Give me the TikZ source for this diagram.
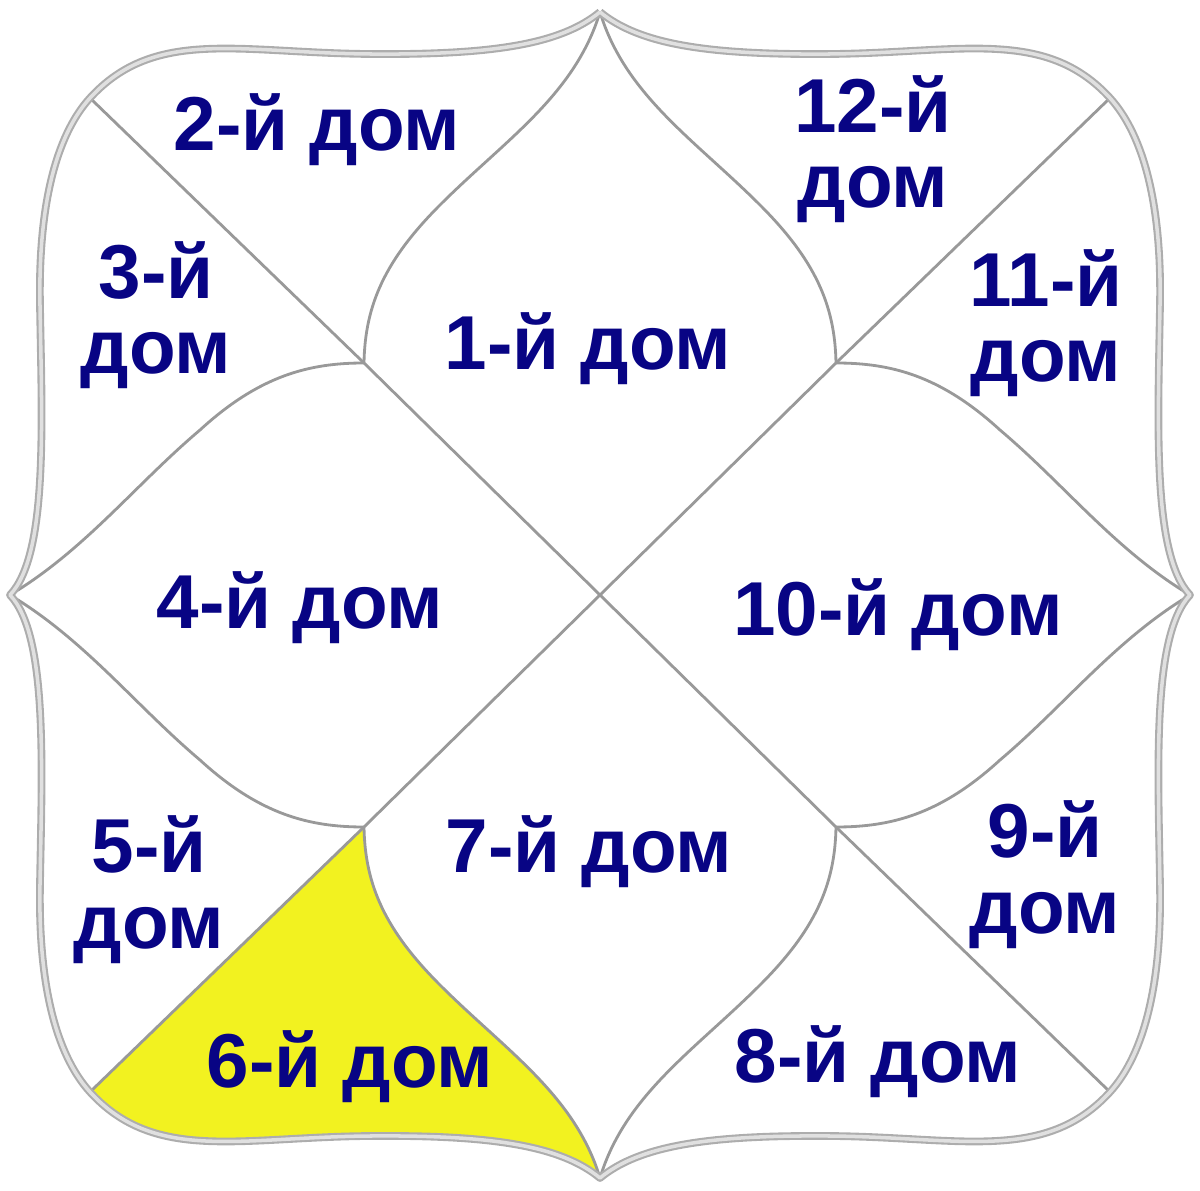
\documentclass[tikz,border=0pt]{standalone}
\usepackage{fontspec}
\setmainfont{Liberation Sans}
\definecolor{houseblue}{RGB}{8,4,132}
\definecolor{sixthyellow}{RGB}{242,242,32}
\begin{document}
\begin{tikzpicture}[x = .02cm, y = .02cm,
	line/.style = {draw = black!40, line width = 1.6pt},
	rim/.style = {draw = black!32, line width = 1.2pt, double = black!12, double distance = 2pt, line join = round},
	house/.style = {text = houseblue, font = \bfseries\fontsize{43.5}{43.1}\selectfont, align = center, anchor = base, inner sep = 0pt}]
	\useasboundingbox (-600,-595) rectangle (600,595);
	\coordinate (ctr) at (0,0);
	\coordinate (tipN) at (0,583);
	\coordinate (tipS) at (0,-583);
	\coordinate (tipW) at (-590,0);
	\coordinate (tipE) at (590,0);
	\coordinate (inNW) at (-236,232);
	\coordinate (inNE) at (236,232);
	\coordinate (inSE) at (236,-232);
	\coordinate (inSW) at (-236,-232);
	\coordinate (cNW) at (-510,497);
	\coordinate (cNE) at (510,497);
	\coordinate (cSE) at (510,-497);
	\coordinate (cSW) at (-510,-497);
	\fill[sixthyellow] (inSW) -- (cSW) .. controls (-445,-568) and (-360,-542) .. (-230,-541) .. controls (-110,-540) and (-40,-550) .. (tipS) .. controls (-25,-500) and (-95,-455) .. (-160,-390) .. controls (-215,-335) and (-235,-290) .. (inSW);
	\draw[line] (cNW) -- (inNW) -- (ctr) -- (inSE) -- (cSE);
	\draw[line] (cNE) -- (inNE) -- (ctr) -- (inSW) -- (cSW);
	\draw[line] (tipN) .. controls (25,500) and (95,455) .. (160,390) .. controls (215,335) and (235,290) .. (inNE);
	\draw[line] (tipN) .. controls (-25,500) and (-95,455) .. (-160,390) .. controls (-215,335) and (-235,290) .. (inNW);
	\draw[line] (tipS) .. controls (25,-500) and (95,-455) .. (160,-390) .. controls (215,-335) and (235,-290) .. (inSE);
	\draw[line] (tipS) .. controls (-25,-500) and (-95,-455) .. (-160,-390) .. controls (-215,-335) and (-235,-290) .. (inSW);
	\draw[line] (tipE) .. controls (515,45) and (465,110) .. (400,165) .. controls (340,220) and (290,232) .. (inNE);
	\draw[line] (tipE) .. controls (515,-45) and (465,-110) .. (400,-165) .. controls (340,-220) and (290,-232) .. (inSE);
	\draw[line] (tipW) .. controls (-515,45) and (-465,110) .. (-400,165) .. controls (-340,220) and (-290,232) .. (inNW);
	\draw[line] (tipW) .. controls (-515,-45) and (-465,-110) .. (-400,-165) .. controls (-340,-220) and (-290,-232) .. (inSW);
	\draw[rim] (tipN) .. controls (40,550) and (110,540) .. (230,541) .. controls (360,542) and (445,568) .. (cNE)
		.. controls (540,464) and (562,400) .. (560,290) .. controls (558,170) and (552,40) .. (tipE)
		.. controls (552,-40) and (558,-170) .. (560,-290) .. controls (562,-400) and (540,-464) .. (cSE)
		.. controls (445,-568) and (360,-542) .. (230,-541) .. controls (110,-540) and (40,-550) .. (tipS)
		.. controls (-40,-550) and (-110,-540) .. (-230,-541) .. controls (-360,-542) and (-445,-568) .. (cSW)
		.. controls (-540,-464) and (-562,-400) .. (-560,-290) .. controls (-558,-170) and (-552,-40) .. (tipW)
		.. controls (-552,40) and (-558,170) .. (-560,290) .. controls (-562,400) and (-540,464) .. (cNW)
		.. controls (-445,568) and (-360,542) .. (-230,541) .. controls (-110,540) and (-40,550) .. (tipN);
	\node[house] (h1) at (-12,225) {1-й дом};
	\node[house] (h2) at (-283,444) {2-й дом};
	\node[house] (h3) at (-444,221) {3-й\\дом};
	\node[house] (h4) at (-300,-33) {4-й дом};
	\node[house] (h5) at (-451,-353) {5-й\\дом};
	\node[house] (h6) at (-250,-492) {6-й дом};
	\node[house] (h7) at (-11,-277) {7-й дом};
	\node[house] (h8) at (278,-487) {8-й дом};
	\node[house] (h9) at (445,-338) {9-й\\дом};
	\node[house] (h10) at (298,-40) {10-й дом};
	\node[house] (h11) at (446,213) {11-й\\дом};
	\node[house] (h12) at (273,387) {12-й\\дом};
\end{tikzpicture}
\end{document}
